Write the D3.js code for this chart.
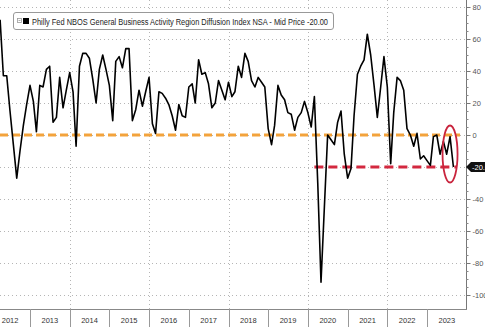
<!DOCTYPE html>
<html lang="en">
<head>
  <meta charset="UTF-8">
  <title>Philly Fed NBOS</title>
  <script src="https://cdn.jsdelivr.net/npm/d3@7"></script>
  <style>
    html, body { margin: 0; padding: 0; background: #fff; }
    svg { display: block; font-family: "Liberation Sans", Arial, sans-serif; }
  </style>
</head>
<body>
  <svg id="chart"></svg>
  <script>
    // monthly readings, first one is Mar 2012 (plotted at month end)
    var firstMonth = new Date(2012, 3, 1);
    var values = [
      72, 37, 37, 15, -6, -27, -10, 6, 19, 31, 21, 2, 31, 30, 41, 43, 8, 11, 36, 17, 28, 39, 27, -7, 43, 51,
      51, 48, 35, 20, 41, 50, 41, 31, 9, 46, 49, 42, 54, 54, 9, 16, 28, 18, 27, 36, 7, 1, 27, 26,
      23, 19, 12, 3, 19, 12, 11, 30, 32, 20, 47, 38, 39, 32, 17, 20, 34, 28, 22, 33, 24, 27, 43, 36, 51,
      46, 34, 30, 36, 33, 30, 4, -6, 6, 31, 25, 22, 14, 13, 3, 11, 14, 21, 14, 5, 24,
      -30, -92, -45, 0, -3, -6, 8, 15, -12, -27, -21, 12, 38, 43, 47, 63, 50, 31, 11, 30, 49, 30, -18,
      14, 36, 34, 28, 4, 0, -7, 1, -15, -13, -16, -19, -1, 0, -12, -4, -12, -1, -20
    ];
    var years = [2012, 2013, 2014, 2015, 2016, 2017, 2018, 2019, 2020, 2021, 2022, 2023];
    var yTicks = [80, 60, 40, 20, 0, -20, -40, -60, -80, -100];
    var gridYears = [2014, 2016, 2018, 2020, 2022];
    var zeroLine = 0;
    var lowLine = -20;
    var lowLineStart = new Date(2020, 2, 1);
    var lastValue = -20;
    var legendText = "Philly Fed NBOS General Business Activity Region Diffusion Index NSA - Mid Price -20.00";

    var width = 485, height = 327;
    var plotRight = 466, plotBottom = 309;

    var data = values.map(function(v, i) {
      return { date: d3.timeMonth.offset(firstMonth, i), value: v };
    });

    var svg = d3.select("#chart").attr("width", width).attr("height", height);

    var x = d3.scaleTime()
        .domain([new Date(2013, 0, 1), new Date(2023, 0, 1)])
        .range([30, 427]);
    var y = d3.scaleLinear().domain([-100, 80]).range([295, 7]);

    svg.append("defs").append("clipPath").attr("id", "clip")
        .append("rect").attr("x", 0).attr("y", 0).attr("width", plotRight).attr("height", plotBottom);

    // grid
    var grid = svg.append("g");
    grid.selectAll(".hg").data(yTicks).enter().append("line")
        .attr("x1", 0).attr("x2", plotRight)
        .attr("y1", function(d) { return Math.round(y(d)) + 0.5; })
        .attr("y2", function(d) { return Math.round(y(d)) + 0.5; })
        .attr("stroke", "#b5b5b5").attr("stroke-dasharray", "1,3");
    grid.selectAll(".vg").data(gridYears).enter().append("line")
        .attr("x1", function(d) { return Math.round(x(new Date(d, 0, 1))) + 0.5; })
        .attr("x2", function(d) { return Math.round(x(new Date(d, 0, 1))) + 0.5; })
        .attr("y1", 0).attr("y2", plotBottom)
        .attr("stroke", "#b5b5b5").attr("stroke-dasharray", "1,3");

    // right axis (the -20 label sits under the last value tag)
    var yAxis = d3.axisRight(y).tickValues(yTicks).tickSize(4).tickPadding(2)
        .tickFormat(function(d) { return d === lastValue ? "" : d; });
    var ya = svg.append("g").attr("transform", "translate(" + (plotRight + 0.5) + ",0)").call(yAxis);
    ya.select(".domain").attr("stroke", "#777").attr("d", "M0,0V" + plotBottom);
    ya.selectAll(".tick line").attr("stroke", "#777");
    ya.selectAll(".tick text").attr("fill", "#555").style("font-size", "7.5px").style("font-family", "Liberation Sans, Arial, sans-serif");
    var minor = d3.range(-100, 81, 5).filter(function(d) { return d % 20 !== 0; });
    svg.append("g").selectAll("line").data(minor).enter().append("line")
        .attr("x1", plotRight).attr("x2", plotRight + 2.5)
        .attr("y1", function(d) { return Math.round(y(d)) + 0.5; })
        .attr("y2", function(d) { return Math.round(y(d)) + 0.5; })
        .attr("stroke", "#888");

    // bottom band
    svg.append("line").attr("x1", 0).attr("x2", plotRight + 1)
        .attr("y1", plotBottom + 0.5).attr("y2", plotBottom + 0.5).attr("stroke", "#888");
    svg.append("g").selectAll("line").data(years.slice(1)).enter().append("line")
        .attr("x1", function(d) { return Math.round(x(new Date(d, 0, 1))) + 0.5; })
        .attr("x2", function(d) { return Math.round(x(new Date(d, 0, 1))) + 0.5; })
        .attr("y1", plotBottom).attr("y2", height)
        .attr("stroke", "#999");
    svg.append("g").selectAll("text").data(years).enter().append("text")
        .attr("x", function(d) { return (x(new Date(d, 0, 1)) + x(new Date(d + 1, 0, 1))) / 2; })
        .attr("y", 323)
        .attr("text-anchor", "middle")
        .attr("fill", "#333")
        .style("font-size", "7.5px")
        .text(function(d) { return d; });

    var plot = svg.append("g").attr("clip-path", "url(#clip)");

    // reference lines
    plot.append("line")
        .attr("x1", 0).attr("x2", x(d3.timeMonth.offset(data[data.length - 1].date, 2)))
        .attr("y1", y(zeroLine)).attr("y2", y(zeroLine))
        .attr("stroke", "#f3a33c").attr("stroke-width", 3).attr("stroke-dasharray", "8,4");
    plot.append("line")
        .attr("x1", x(lowLineStart)).attr("x2", x(d3.timeMonth.offset(data[data.length - 1].date, 1)))
        .attr("y1", y(lowLine)).attr("y2", y(lowLine))
        .attr("stroke", "#d3283f").attr("stroke-width", 3).attr("stroke-dasharray", "9,5");

    // series
    var line = d3.line()
        .x(function(d) { return x(d.date); })
        .y(function(d) { return y(d.value); });
    plot.append("path").datum(data)
        .attr("d", line)
        .attr("fill", "none")
        .attr("stroke", "#000")
        .attr("stroke-width", 1.6)
        .attr("stroke-linejoin", "round");

    // highlight ellipse around the last readings
    var lastDate = data[data.length - 1].date;
    svg.append("ellipse")
        .attr("cx", x(d3.timeMonth.offset(lastDate, -1)))
        .attr("cy", (y(0) + y(-20)) / 2 + 3)
        .attr("rx", 7.5).attr("ry", 28.5)
        .attr("fill", "none").attr("stroke", "#c9243d").attr("stroke-width", 1.8);

    // last value tag
    var ty = y(lastValue);
    svg.append("path")
        .attr("d", "M" + plotRight + "," + ty + "L" + (plotRight + 5) + "," + (ty - 5) + "H" + width + "V" + (ty + 5) + "H" + (plotRight + 5) + "Z")
        .attr("fill", "#111");
    svg.append("text")
        .attr("x", plotRight + 6).attr("y", ty + 2.7)
        .attr("fill", "#fff").style("font-size", "7.5px")
        .text(lastValue.toFixed(2));

    // legend
    var lg = svg.append("g");
    lg.append("rect").attr("x", 13.5).attr("y", 12.5).attr("width", 320).attr("height", 17)
        .attr("rx", 2.5).attr("fill", "#fff").attr("stroke", "#999");
    lg.append("rect").attr("x", 17.5).attr("y", 18.5).attr("width", 4).attr("height", 4)
        .attr("fill", "none").attr("stroke", "#999").attr("stroke-width", 0.8);
    lg.append("line").attr("x1", 18.5).attr("x2", 20.5).attr("y1", 20.5).attr("y2", 20.5)
        .attr("stroke", "#999").attr("stroke-width", 0.8);
    lg.append("rect").attr("x", 23).attr("y", 18).attr("width", 6).attr("height", 6).attr("fill", "#000");
    lg.append("text").attr("x", 32).attr("y", 24.5)
        .attr("fill", "#222").style("font-size", "8.5px")
        .attr("textLength", 296).attr("lengthAdjust", "spacingAndGlyphs")
        .text(legendText);
  </script>
</body>
</html>
